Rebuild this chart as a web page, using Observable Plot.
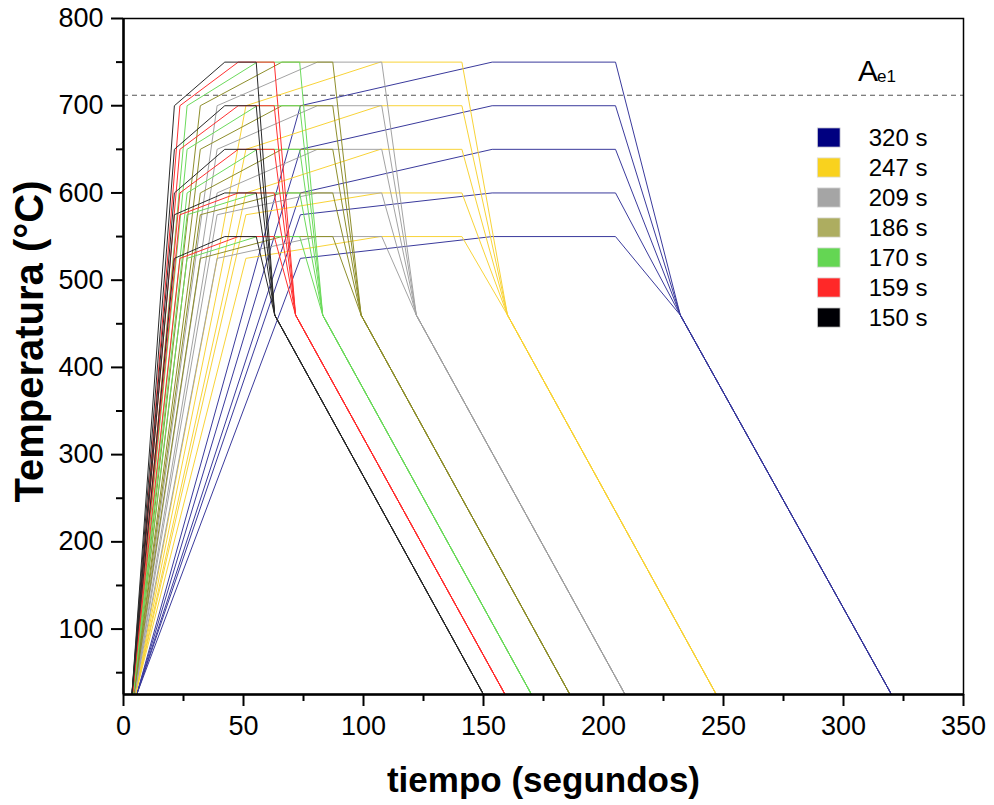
<!DOCTYPE html>
<html>
<head>
<meta charset="utf-8">
<script src="https://cdn.jsdelivr.net/npm/d3@7"></script>
<script src="https://cdn.jsdelivr.net/npm/@observablehq/plot@0.6"></script>
<style>
  html, body { margin: 0; padding: 0; background: #fff; }
  #chart svg { display: block; }
</style>
</head>
<body>
<div id="chart"></div>
<script>
// Cycle-time series (legend order, top to bottom)
const series = ["320 s", "247 s", "209 s", "186 s", "170 s", "159 s", "150 s"];
const lineColors = ["#3a3a9c", "#f8d338", "#a3a3a3", "#8e8e2c", "#6cda5c", "#ff3030", "#2a2a2a"];
const legendColors = ["#000080", "#f9d21e", "#a5a5a5", "#adad60", "#64d653", "#ff2828", "#000005"];
// Key times (s) of each thermal cycle, per series
const tStart = [5.5, 5.0, 4.6, 4.3, 4.0, 3.7, 3.5];
const tKnee = [73.7, 51.0, 39.0, 32.0, 26.5, 23.5, 21.2];
const tPeak = [153.6, 107.0, 80.8, 66.0, 55.7, 47.8, 42.2];
const tHoldEnd = [205.0, 141.0, 107.6, 87.2, 73.4, 62.8, 55.3];
const tQuench = [232.0, 160.0, 122.0, 99.0, 83.0, 71.7, 63.0];
const tEnd = [320, 247, 209, 186, 170, 159, 150];
// Peak (hold) temperatures and the knee temperature of the heating ramp
const peakTemps = [550, 600, 650, 700, 750];
const kneeTemps = [525, 575, 600, 650, 700];
const roomTemp = 25;
const quenchTemp = 460;
const ae1 = 712;
const xTicks = [0, 50, 100, 150, 200, 250, 300, 350];
const xMinor = [25, 75, 125, 175, 225, 275, 325];
const yTicks = [100, 200, 300, 400, 500, 600, 700, 800];
const yMinor = [50, 150, 250, 350, 450, 550, 650, 750];

const rows = [];
series.forEach((s, i) => {
  peakTemps.forEach((T, j) => {
    const id = s + "-" + T;
    const pts = [
      [tStart[i], roomTemp],
      [tKnee[i], kneeTemps[j]],
      [tPeak[i], T],
      [tHoldEnd[i], T],
      [tQuench[i], quenchTemp],
      [tEnd[i], roomTemp]
    ];
    pts.forEach(([t, v]) => rows.push({id, series: s, color: lineColors[i], t, T: v}));
  });
});

// legend layout (in data units)
const legendRows = series.map((s, i) => ({
  label: s,
  color: legendColors[i],
  y: 663 - i * 34.4
}));

const font = "'Liberation Sans', Arial, sans-serif";

const chart = Plot.plot({
  width: 994,
  height: 805,
  marginLeft: 123,
  marginRight: 31,
  marginTop: 18,
  marginBottom: 111,
  style: {fontFamily: font, fontSize: "26px", background: "#fff", color: "#000"},
  x: {domain: [0, 350]},
  y: {domain: [25, 800]},
  color: {type: "identity"},
  marks: [
    Plot.ruleY([ae1], {stroke: "#555", strokeWidth: 1.2, strokeDasharray: "5,4"}),
    Plot.line(rows, {x: "t", y: "T", z: "id", stroke: "color", strokeWidth: 1}),
    Plot.frame({stroke: "#000", strokeWidth: 1.5}),
    Plot.ruleX([0], {stroke: "#000", strokeWidth: 2.5}),
    Plot.ruleY([25], {stroke: "#000", strokeWidth: 2.5}),
    Plot.axisX({ticks: xTicks, tickSize: 12, tickPadding: 9, strokeWidth: 2, fontSize: 27, label: null}),
    Plot.axisX({ticks: xMinor, tickSize: 7, tickFormat: () => "", strokeWidth: 2, label: null}),
    Plot.axisY({ticks: yTicks, tickSize: 12, tickPadding: 8, strokeWidth: 2, fontSize: 27, label: null}),
    Plot.axisY({ticks: yMinor, tickSize: 7, tickFormat: () => "", strokeWidth: 2, label: null}),
    Plot.text(["tiempo (segundos)"], {frameAnchor: "bottom", dy: 86, fontSize: 35, fontWeight: "bold", lineAnchor: "middle", textAnchor: "middle"}),
    Plot.text(["Temperatura (°C)"], {frameAnchor: "left", dx: -93, dy: -15, rotate: -90, fontSize: 40, fontWeight: "bold", lineAnchor: "middle", textAnchor: "middle"}),
    // Ae1 label
    Plot.text(["A"], {x: 306, y: ae1, dy: -14, textAnchor: "start", lineAnchor: "bottom", fontSize: 30}),
    Plot.text(["e1"], {x: 314, y: ae1, dy: -13, textAnchor: "start", lineAnchor: "bottom", fontSize: 17}),
    // legend
    Plot.rect(legendRows, {x1: 289.3, x2: 298.8, y1: d => d.y - 11, y2: d => d.y + 11, fill: "color", stroke: "#ddd", strokeWidth: 0.8}),
    Plot.text(legendRows, {x: 310.5, y: "y", text: "label", textAnchor: "start", fontSize: 24})
  ]
});
document.getElementById("chart").appendChild(chart);
</script>
</body>
</html>
